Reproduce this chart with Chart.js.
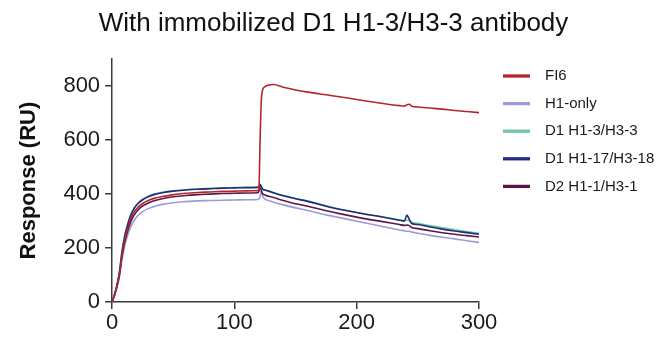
<!DOCTYPE html>
<html>
<head>
<meta charset="utf-8">
<script src="https://cdn.jsdelivr.net/npm/chart.js@4.4.0/dist/chart.umd.min.js"></script>
<style>
  html, body { margin: 0; padding: 0; background: #fff; }
</style>
</head>
<body>
<canvas id="sprChart" width="667" height="337"></canvas>
<script>
// time axis (s), shared by every sensorgram
const timeSec = [0, 2, 4, 6, 8, 10, 12, 15, 18, 21, 25, 30, 35, 40, 50, 60, 70, 80, 90, 100, 110, 119,
  120, 121, 122, 123, 125, 128, 132, 140, 150, 160, 175, 190, 205, 220, 235,
  239, 241, 243, 245, 250, 260, 270, 280, 290, 300];

// response (RU)
const fi6 = [0, 27, 60, 105, 172, 225, 262, 305, 333, 350, 365, 377, 385, 390, 398, 403, 406, 408, 410, 411, 412, 413,
  416, 600, 745, 785, 798, 804, 806, 796, 786, 778, 768, 758, 747, 737, 728,
  726, 731, 733, 726, 723, 719, 715, 710, 706, 702];
const h1Only = [0, 24, 55, 95, 155, 203, 237, 276, 302, 320, 335, 347, 355, 361, 368, 372, 375, 376, 377, 378, 379, 380,
  382, 392, 410, 393, 381, 376, 370, 360, 349, 339, 323, 309, 295, 281, 267,
  264, 262, 262, 259, 255, 247, 240, 234, 227, 221];
const d1H13H33 = [0, 30, 65, 115, 188, 242, 279, 322, 349, 366, 381, 393, 401, 406, 412, 416, 419, 421, 423, 424, 425, 426,
  428, 433, 426, 419, 415, 411, 405, 395, 384, 374, 357, 341, 328, 316, 304,
  301, 303, 301, 296, 292, 283, 275, 268, 261, 255];
const d1H117H318 = [0, 28, 62, 110, 182, 236, 274, 318, 346, 364, 379, 391, 399, 404, 411, 415, 418, 420, 422, 423, 424, 425,
  428, 436, 428, 419, 415, 411, 405, 394, 383, 373, 355, 340, 327, 316, 303,
  300, 322, 306, 291, 287, 278, 270, 263, 257, 251];
const d2H11H31 = [0, 26, 58, 100, 165, 216, 252, 294, 322, 340, 356, 368, 376, 382, 390, 395, 398, 400, 402, 403, 404, 405,
  410, 432, 413, 402, 397, 392, 387, 376, 364, 355, 338, 324, 310, 299, 287,
  284, 285, 283, 276, 272, 264, 257, 251, 246, 241];

const seriesNames = ['FI6', 'H1-only', 'D1 H1-3/H3-3', 'D1 H1-17/H3-18', 'D2 H1-1/H3-1'];
const seriesValues = [fi6, h1Only, d1H13H33, d1H117H318, d2H11H31];

const xTickValues = [0, 100, 200, 300];
const yTickValues = [0, 200, 400, 600, 800];

const lineColors = ['#b3262c', '#9b9bd8', '#6fc7a5', '#242a7a', '#5c1747'];
const drawOrder = [0, 4, 2, 1, 3]; // lower = drawn on top
const axisColor = '#3a3a3a';
const fontFamily = '"Liberation Sans", Arial, Helvetica, sans-serif';

Chart.defaults.font.family = fontFamily;

// reserves a column on the right for the key and draws it there
const lineKey = {
  id: 'lineKey',
  beforeInit(chart) {
    const box = {
      position: 'right',
      weight: 0,
      fullSize: false,
      options: {},
      isHorizontal() { return false; },
      update(maxWidth, maxHeight) {
        this.width = 188;
        this.height = maxHeight;
      },
      draw() {
        const ctx = chart.ctx;
        const x0 = this.left + 24;
        ctx.save();
        ctx.font = '15px ' + fontFamily;
        ctx.textBaseline = 'middle';
        chart.data.datasets.forEach((ds, i) => {
          const y = 76 + i * 27.6;
          ctx.strokeStyle = ds.borderColor;
          ctx.lineWidth = 3.3;
          ctx.beginPath();
          ctx.moveTo(x0, y);
          ctx.lineTo(x0 + 27, y);
          ctx.stroke();
          ctx.fillStyle = '#1a1a1a';
          ctx.fillText(ds.label, x0 + 42, y);
        });
        ctx.restore();
      },
    };
    Chart.layouts.addBox(chart, box);
  },
};

const ctx = document.getElementById('sprChart').getContext('2d');
new Chart(ctx, {
  type: 'line',
  data: {
    datasets: seriesNames.map((name, i) => ({
      label: name,
      data: timeSec.map((t, j) => ({ x: t, y: seriesValues[i][j] })),
      borderColor: lineColors[i],
      backgroundColor: lineColors[i],
      borderWidth: 1.6,
      pointRadius: 0,
      cubicInterpolationMode: 'monotone',
      order: drawOrder[i],
    })),
  },
  options: {
    responsive: false,
    animation: false,
    layout: { padding: 0 },
    plugins: {
      legend: { display: false },
      tooltip: { enabled: false },
      title: {
        display: true,
        text: 'With immobilized D1 H1-3/H3-3 antibody',
        color: '#111',
        font: { size: 26, weight: 'normal' },
        padding: { top: 8, bottom: 20 },
      },
    },
    scales: {
      x: {
        type: 'linear',
        min: 0,
        max: 300,
        afterBuildTicks: (scale) => { scale.ticks = xTickValues.map((v) => ({ value: v })); },
        grid: { drawOnChartArea: false, drawTicks: true, tickLength: 7, color: axisColor, lineWidth: 1.5 },
        border: { display: true, color: axisColor, width: 1.5 },
        ticks: { color: '#1a1a1a', padding: 3, maxRotation: 0, font: { size: 22, lineHeight: 1 } },
      },
      y: {
        min: 0,
        max: 900,
        afterBuildTicks: (scale) => { scale.ticks = yTickValues.map((v) => ({ value: v })); },
        grid: { drawOnChartArea: false, drawTicks: true, tickLength: 7, color: axisColor, lineWidth: 1.5 },
        border: { display: true, color: axisColor, width: 1.5 },
        ticks: { color: '#1a1a1a', padding: 5, font: { size: 22 } },
        title: {
          display: true,
          text: 'Response (RU)',
          color: '#111',
          font: { size: 22, weight: 'bold' },
          padding: { top: 16, bottom: 16 },
        },
      },
    },
  },
  plugins: [lineKey],
});
</script>
</body>
</html>
